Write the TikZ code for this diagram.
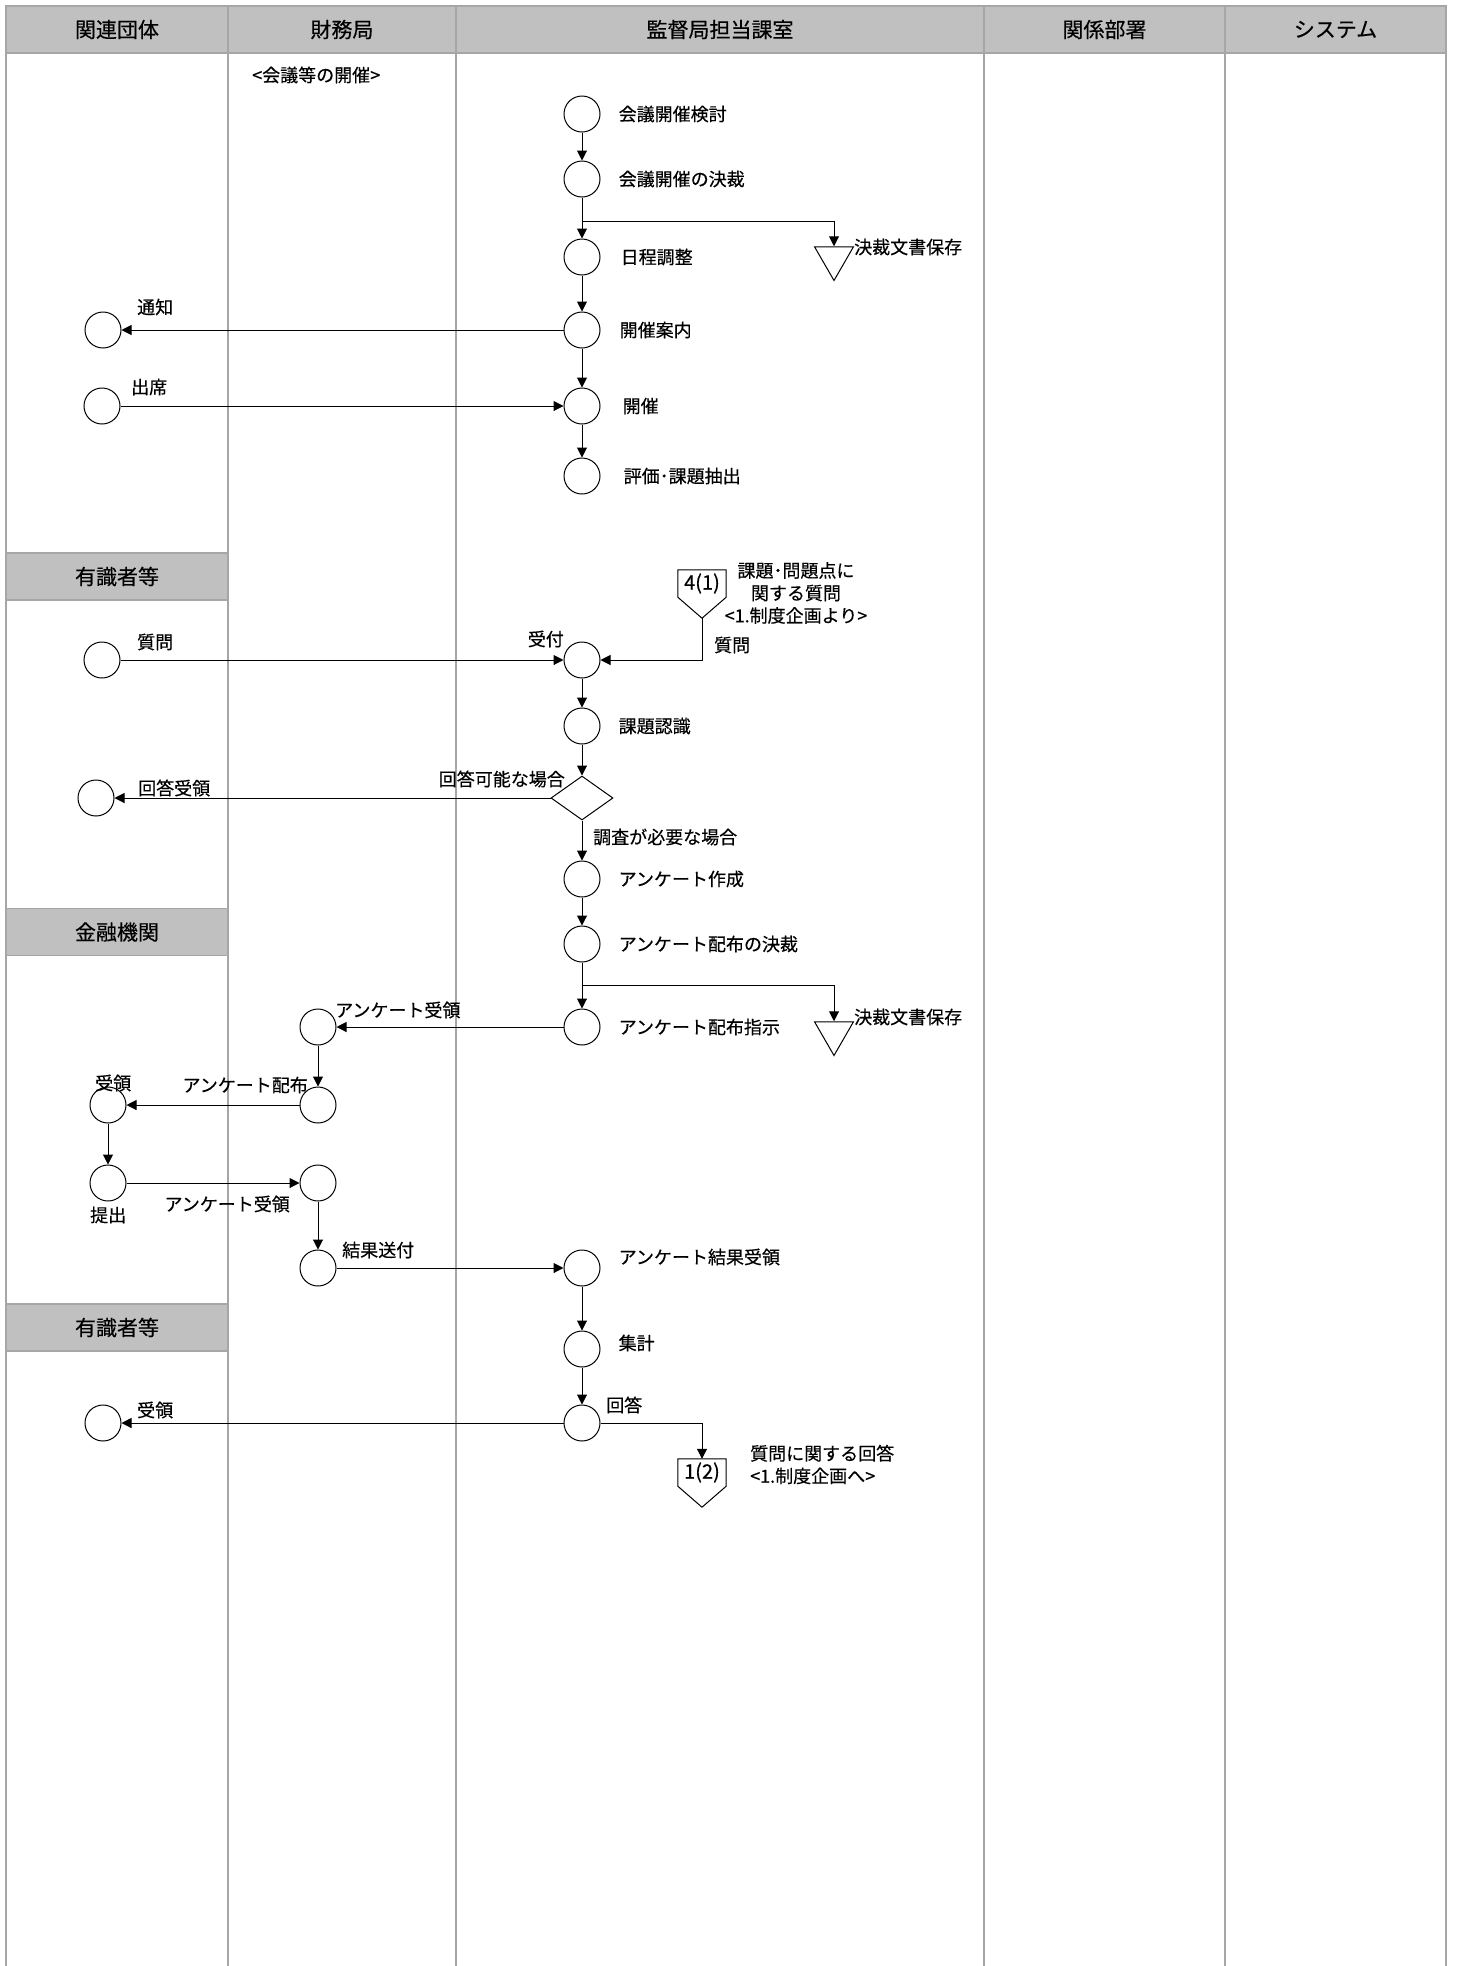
\documentclass[tikz,border=0pt]{standalone}
\usepackage{fontspec}
\setmainfont{Noto Sans CJK JP}[FakeBold=0.4]
\usetikzlibrary{
    positioning,
    arrows.meta,
    shapes.geometric
}
\definecolor{lanegray}{HTML}{A6A6A6}
\definecolor{headgray}{HTML}{C0C0C0}

\begin{document}
\begin{tikzpicture}[
    x=1pt, y=-1pt,
    every node/.style={font=\fontsize{18}{22.5}\selectfont},
    headcell/.style={rectangle, draw=lanegray, line width=1.5pt, fill=headgray, minimum height=47pt, inner sep=0pt, font=\fontsize{21}{24}\selectfont},
    lane/.style={draw=lanegray, line width=1.5pt},
    proc/.style={circle, draw, line width=1pt, minimum size=36pt, inner sep=0pt},
    judge/.style={diamond, draw, line width=1pt, minimum width=62pt, minimum height=44pt, inner sep=0pt},
    store/.style={regular polygon, regular polygon sides=3, shape border rotate=180, draw, line width=1pt, minimum size=45pt, inner sep=0pt},
    offpage/.style={rectangle, minimum width=48pt, minimum height=27pt, inner sep=0pt, font=\fontsize{20}{22}\selectfont},
    txt/.style={inner sep=1pt},
    arrow/.style={-{Triangle[length=10pt,width=10pt]}, line width=1pt}
]
\useasboundingbox (0,0) rectangle (1457,1966);
\fill[white] (0,0) rectangle (1457,1966);

% ================= LANES =================
\foreach \x in {6,228,456,984,1225,1446}
    \draw[lane] (\x,53) -- (\x,1966);

\node[headcell, minimum width=222pt] (h-kanren) at (117,29.5) {関連団体};
\node[headcell, minimum width=228pt] (h-zaimu) at (342,29.5) {財務局};
\node[headcell, minimum width=528pt] (h-kantoku) at (720,29.5) {監督局担当課室};
\node[headcell, minimum width=241pt] (h-kankei) at (1104.5,29.5) {関係部署};
\node[headcell, minimum width=221pt] (h-system) at (1335.5,29.5) {システム};

\node[headcell, minimum width=222pt] (b-yuushiki1) at (117,576.5) {有識者等};
\node[headcell, minimum width=222pt] (b-kinyuu) at (117,932) {金融機関};
\node[headcell, minimum width=222pt] (b-yuushiki2) at (117,1327.5) {有識者等};

\node[txt, anchor=west] (title) at (251,75) {<会議等の開催>};

% ================= MEETING =================
\node[proc] (kentou) at (582,114) {};
\node[proc] (kessai1) at (582,179) {};
\coordinate (br1) at (582,221);
\node[proc] (nittei) at (582,257) {};
\node[proc] (annai) at (582,330) {};
\node[proc] (kaisai) at (582,406) {};
\node[proc] (hyouka) at (582,476) {};

\node[txt, right=17pt of kentou] (kentou-t) {会議開催検討};
\node[txt, right=17pt of kessai1] (kessai1-t) {会議開催の決裁};
\node[txt, right=19pt of nittei] (nittei-t) {日程調整};
\node[txt, right=18pt of annai] (annai-t) {開催案内};
\node[txt, right=21pt of kaisai] (kaisai-t) {開催};
\node[txt, right=22pt of hyouka] (hyouka-t) {評価･課題抽出};

\node[store] (hozon1) at (834,258) {};
\node[txt, anchor=west] (hozon1-t) at (853,247) {決裁文書保存};

\node[proc] (tsuuchi) at (103,330) {};
\node[txt, anchor=west] (tsuuchi-t) at (136,307) {通知};
\node[proc] (shusseki) at (102,406) {};
\node[txt, anchor=west] (shusseki-t) at (130,387) {出席};

% ================= QUESTION =================
\node[offpage] (off1) at (702,583.5) {4(1)};
\coordinate (off1tip) at ([yshift=-21pt]off1.south);
\node[txt, align=center] (off1-t) at (796,593) {課題･問題点に\\関する質問\\<1.制度企画より>};
\node[txt, anchor=west] (off1-q) at (713,645) {質問};

\node[proc] (uketsuke) at (582,660) {};
\node[txt, anchor=east] (uketsuke-t) at (565,639) {受付};
\node[proc] (ninshiki) at (582,726) {};
\node[txt, right=17pt of ninshiki] (ninshiki-t) {課題認識};
\node[judge] (hantei) at (582,798) {};
\node[txt, anchor=east] (hantei-yes) at (566,779) {回答可能な場合};
\node[txt, anchor=west] (hantei-no) at (592,837) {調査が必要な場合};

\node[proc] (shitsumon) at (102,660) {};
\node[txt, anchor=west] (shitsumon-t) at (136,642) {質問};
\node[proc] (kaitou-j) at (96,798) {};
\node[txt, anchor=west] (kaitou-j-t) at (137,788) {回答受領};

% ================= SURVEY =================
\node[proc] (sakusei) at (582,879) {};
\node[txt, right=17pt of sakusei] (sakusei-t) {アンケート作成};
\node[proc] (kessai2) at (582,944) {};
\node[txt, right=17pt of kessai2] (kessai2-t) {アンケート配布の決裁};
\coordinate (br2) at (582,985);
\node[proc] (shiji) at (582,1027) {};
\node[txt, right=17pt of shiji] (shiji-t) {アンケート配布指示};

\node[store] (hozon2) at (834,1033) {};
\node[txt, anchor=west] (hozon2-t) at (853,1017) {決裁文書保存};

\node[proc] (fin-juryo1) at (318,1027) {};
\node[txt, anchor=west] (fin-juryo1-t) at (334,1010) {アンケート受領};
\node[proc] (fin-haifu) at (318,1105) {};
\node[txt, anchor=east] (fin-haifu-t) at (309,1085) {アンケート配布};
\node[proc] (fin-juryo2) at (318,1183) {};
\node[txt, anchor=east] (fin-juryo2-t) at (291,1204) {アンケート受領};
\node[proc] (fin-soufu) at (318,1268) {};
\node[txt, anchor=west] (fin-soufu-t) at (341,1250) {結果送付};

\node[proc] (kin-juryo) at (108,1105) {};
\node[txt, anchor=west] (kin-juryo-t) at (94,1083) {受領};
\node[proc] (kin-teishutsu) at (108,1183) {};
\node[txt, anchor=west] (kin-teishutsu-t) at (89,1215) {提出};

% ================= ANSWER =================
\node[proc] (kekka) at (582,1268) {};
\node[txt, right=17pt of kekka, yshift=11pt] (kekka-t) {アンケート結果受領};
\node[proc] (shuukei) at (582,1349) {};
\node[txt, right=17pt of shuukei, yshift=6pt] (shuukei-t) {集計};
\node[proc] (kaitou) at (582,1423) {};
\node[txt, anchor=west] (kaitou-t) at (605,1405) {回答};

\node[offpage] (off2) at (702,1472.5) {1(2)};
\coordinate (off2tip) at ([yshift=-21pt]off2.south);
\node[txt, anchor=west, align=left] (off2-t) at (749,1464.5) {質問に関する回答\\<1.制度企画へ>};

\node[proc] (juryo-last) at (103,1423) {};
\node[txt, anchor=west] (juryo-last-t) at (136,1410) {受領};

% ================= SHAPES =================
\draw[line width=1pt] (off1.north west) -- (off1.north east) -- (off1.south east) -- (off1tip) -- (off1.south west) -- cycle;
\draw[line width=1pt] (off2.north west) -- (off2.north east) -- (off2.south east) -- (off2tip) -- (off2.south west) -- cycle;

% ================= ARROWS =================
\draw[arrow] (kentou) -- (kessai1);
\draw[arrow] (kessai1) -- (nittei);
\draw[arrow] (br1) -| (hozon1.north);
\draw[arrow] (nittei) -- (annai);
\draw[arrow] (annai) -- (kaisai);
\draw[arrow] (kaisai) -- (hyouka);
\draw[arrow] (annai) -- (tsuuchi);
\draw[arrow] (shusseki) -- (kaisai);

\draw[arrow] (shitsumon) -- (uketsuke);
\draw[arrow] (off1tip) |- (uketsuke);
\draw[arrow] (uketsuke) -- (ninshiki);
\draw[arrow] (ninshiki) -- (hantei);
\draw[arrow] (hantei) -- (kaitou-j);
\draw[arrow] (hantei) -- (sakusei);

\draw[arrow] (sakusei) -- (kessai2);
\draw[arrow] (kessai2) -- (shiji);
\draw[arrow] (br2) -| (hozon2.north);
\draw[arrow] (shiji) -- (fin-juryo1);
\draw[arrow] (fin-juryo1) -- (fin-haifu);
\draw[arrow] (fin-haifu) -- (kin-juryo);
\draw[arrow] (kin-juryo) -- (kin-teishutsu);
\draw[arrow] (kin-teishutsu) -- (fin-juryo2);
\draw[arrow] (fin-juryo2) -- (fin-soufu);
\draw[arrow] (fin-soufu) -- (kekka);

\draw[arrow] (kekka) -- (shuukei);
\draw[arrow] (shuukei) -- (kaitou);
\draw[arrow] (kaitou) -- (juryo-last);
\draw[arrow] (kaitou) -| (off2.north);

\end{tikzpicture}
\end{document}
